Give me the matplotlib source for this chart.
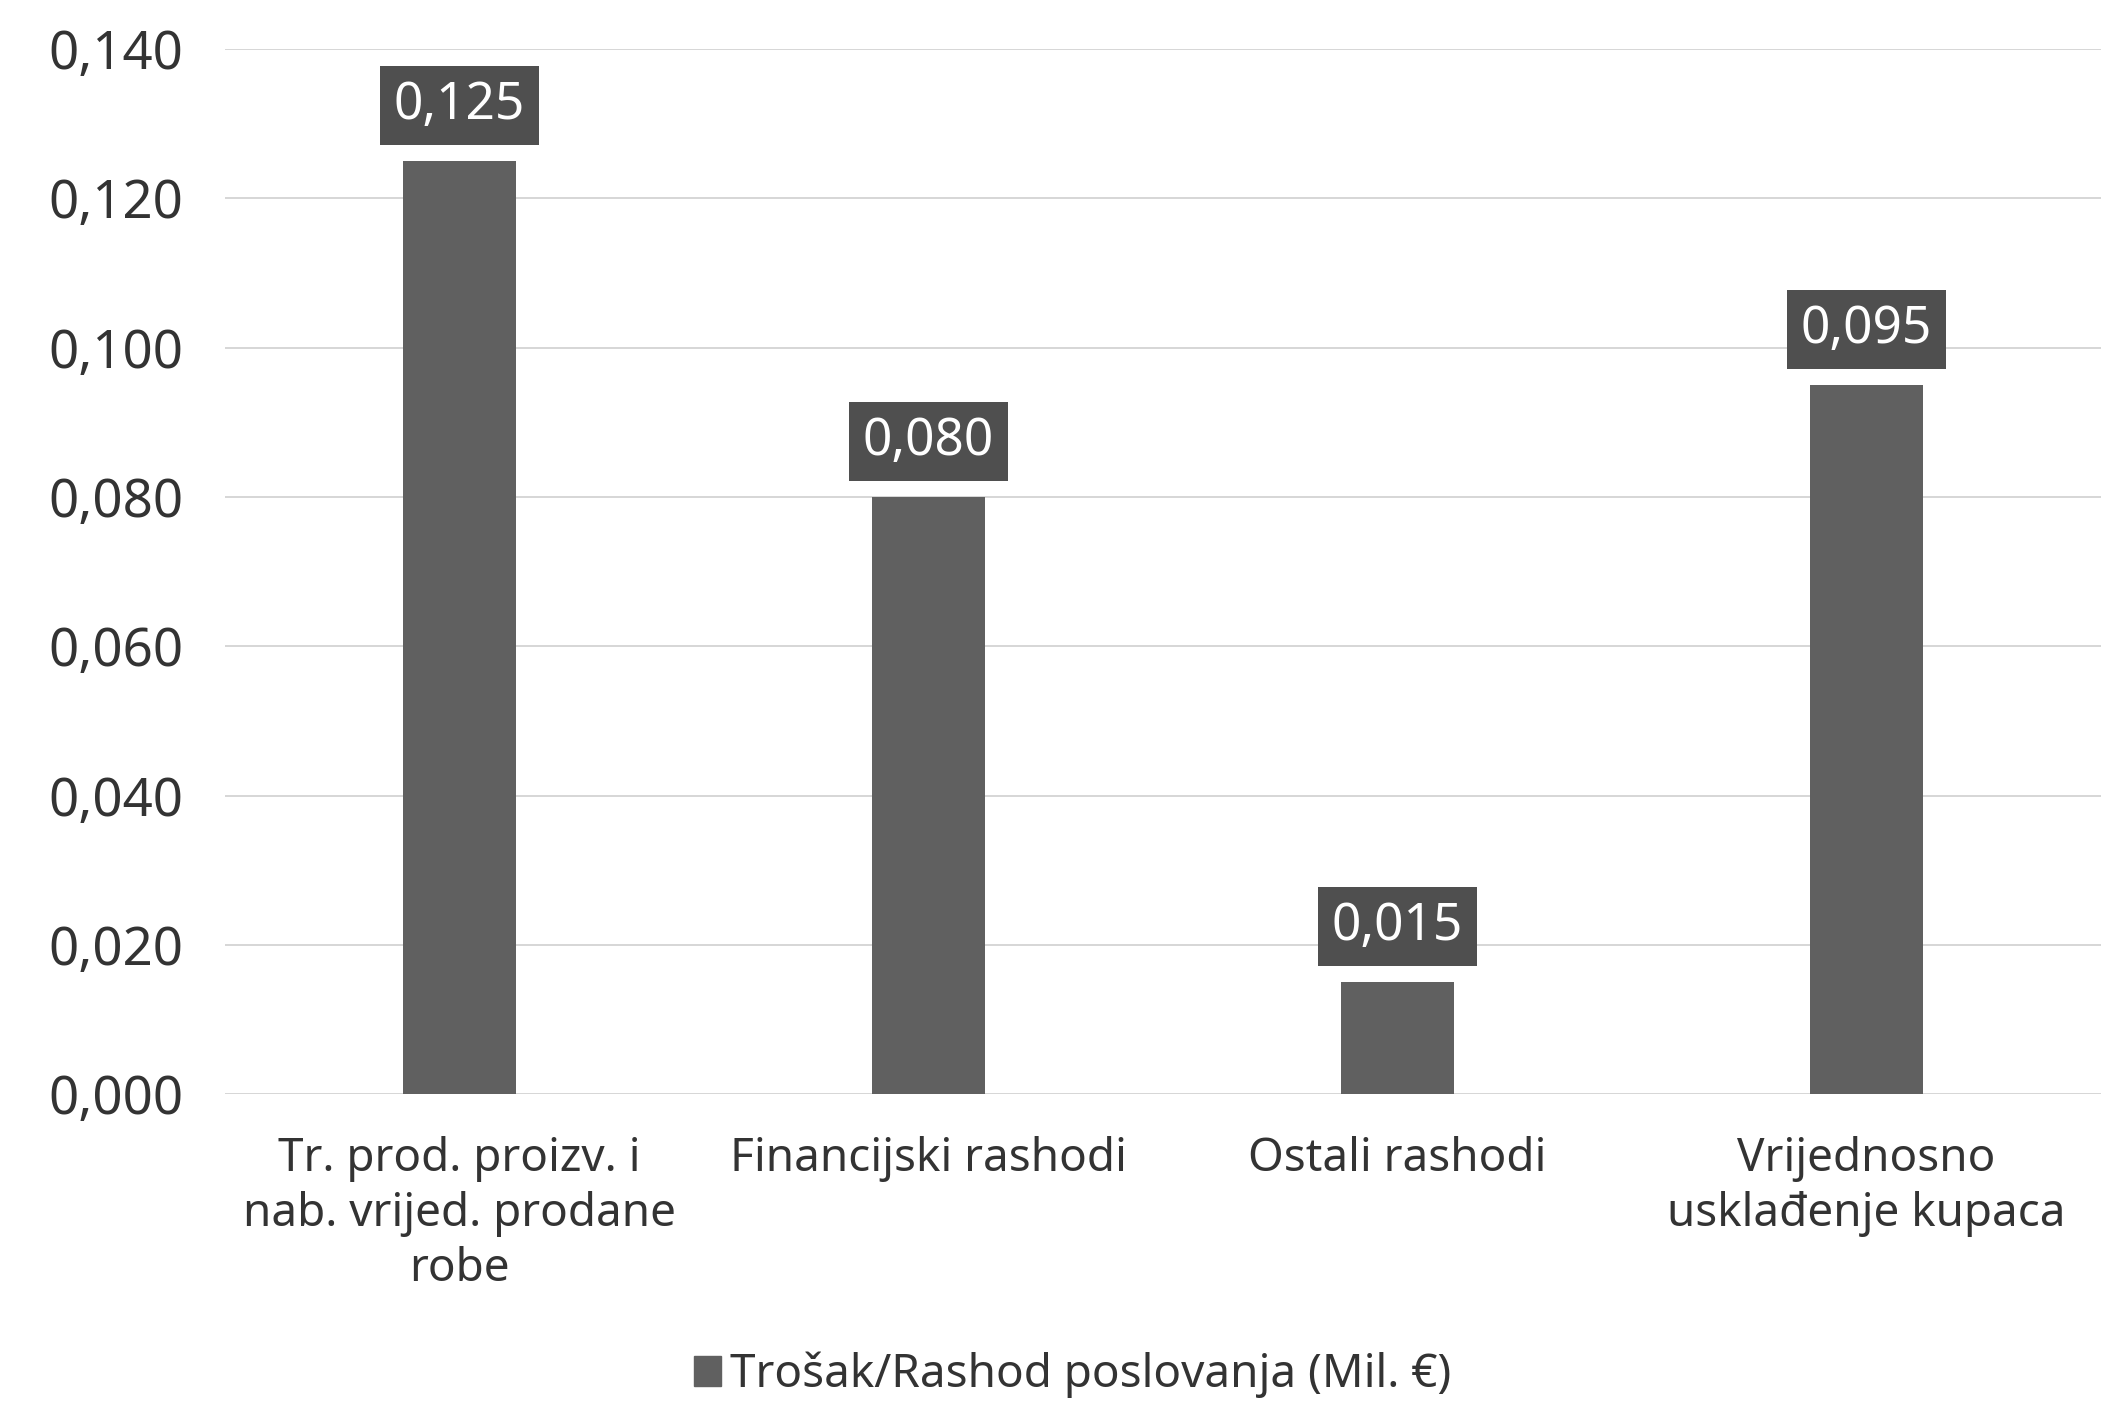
import matplotlib.pyplot as plt
from matplotlib.patches import Patch

# data
categories = ["Tr. prod. proizv. i\nnab. vrijed. prodane\nrobe",
              "Financijski rashodi",
              "Ostali rashodi",
              "Vrijednosno\nusklađenje kupaca"]
values = [0.125, 0.080, 0.015, 0.095]
yticks = [0.000, 0.020, 0.040, 0.060, 0.080, 0.100, 0.120, 0.140]
series_name = "Trošak/Rashod poslovanja (Mil. €)"

bar_color = "#606060"
box_color = "#4f4f4f"

plt.rcParams["font.family"] = ["Noto Sans", "DejaVu Sans"]

fig = plt.figure(figsize=(21.03, 14.03), dpi=100)
ax = fig.add_axes([0.107, 0.22, 0.892, 0.745])

x = range(len(values))
ax.bar(x, values, width=0.24, color=bar_color, zorder=2)

# value labels in dark boxes above the bars
for xi, v in zip(x, values):
    ax.annotate(f"{v:.3f}".replace(".", ","), (xi, v),
                textcoords="offset points", xytext=(0, 40),
                ha="center", va="center", fontsize=37, color="white",
                bbox=dict(boxstyle="square,pad=0.27", fc=box_color, ec="none"),
                zorder=3)

ax.set_xlim(-0.5, len(values) - 0.5)
ax.set_ylim(0, 0.14)
ax.set_yticks(yticks)
ax.set_yticklabels([f"{t:.3f}".replace(".", ",") for t in yticks],
                   fontsize=38, color="#333333")
ax.set_xticks(list(x))
ax.set_xticklabels(categories, fontsize=33, color="#333333", linespacing=1.25)
ax.tick_params(axis="both", length=0)
ax.tick_params(axis="x", pad=30)
ax.tick_params(axis="y", pad=30)

ax.grid(axis="y", color="#d0d0d0", linewidth=1.2, zorder=0)
ax.set_axisbelow(True)
for s in ax.spines.values():
    s.set_visible(False)

fig.legend(handles=[Patch(color=bar_color, label=series_name)],
           loc="center", bbox_to_anchor=(0.51, 0.02), frameon=False,
           fontsize=33, handlelength=0.6, handleheight=0.6, handletextpad=0.2,
           labelcolor="#333333")

fig.savefig("out.png", dpi=100)
